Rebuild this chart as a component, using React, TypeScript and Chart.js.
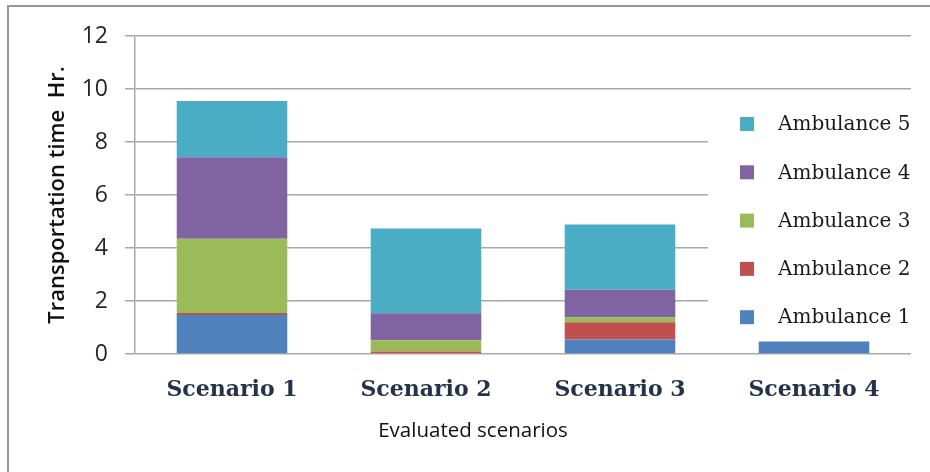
import React, { useEffect, useRef } from "react";
import { Chart, registerables } from "chart.js";

Chart.register(...registerables);

const categories = ["Scenario 1", "Scenario 2", "Scenario 3", "Scenario 4"];
const ambulance1 = [1.47, 0, 0.55, 0.47];
const ambulance2 = [0.08, 0.09, 0.65, 0];
const ambulance3 = [2.8, 0.43, 0.19, 0];
const ambulance4 = [3.07, 1.02, 1.03, 0];
const ambulance5 = [2.13, 3.2, 2.47, 0];
const seriesLabels = ["Ambulance 1", "Ambulance 2", "Ambulance 3", "Ambulance 4", "Ambulance 5"];
const seriesColors = ["#4f81bd", "#c0504d", "#9bbb59", "#8064a2", "#4bacc6"];
const yTicks = { min: 0, max: 12, step: 2 };
const xTitle = "Evaluated scenarios";
const yTitle = "Transportation time  Hr.";

const framePlugin = {
  id: "frame",
  beforeDraw(chart: any) {
    const ctx = chart.ctx;
    ctx.save();
    ctx.fillStyle = "#ffffff";
    ctx.fillRect(0, 0, chart.width, chart.height);
    ctx.strokeStyle = "#979797";
    ctx.lineWidth = 2;
    ctx.beginPath();
    ctx.moveTo(8, chart.height + 5);
    ctx.lineTo(8, 6);
    ctx.lineTo(chart.width + 5, 6);
    ctx.stroke();
    ctx.restore();
  },
};

const xTitlePlugin = {
  id: "xTitle",
  afterDraw(chart: any) {
    const ctx = chart.ctx;
    ctx.save();
    ctx.fillStyle = "#111111";
    ctx.font = "20.5px 'Open Sans'";
    ctx.textAlign = "center";
    ctx.textBaseline = "middle";
    ctx.fillText(xTitle, chart.width / 2 + 8, chart.chartArea.bottom + 77);
    ctx.restore();
  },
};

const legendPlugin = {
  id: "innerLegend",
  afterDraw(chart: any) {
    const ctx = chart.ctx;
    const area = chart.chartArea;
    const boxLeft = area.right - 203;
    ctx.save();
    ctx.fillStyle = "#ffffff";
    ctx.fillRect(boxLeft, area.top + 64, 230, 236);
    const ds = chart.data.datasets.slice().reverse();
    ds.forEach((d: any, i: number) => {
      const cy = area.top + 88 + i * 48.3;
      ctx.fillStyle = d.backgroundColor;
      ctx.fillRect(area.right - 171, cy - 7, 14, 14);
      ctx.fillStyle = "#1a1a1a";
      ctx.font = "20px 'DejaVu Serif'";
      ctx.textBaseline = "middle";
      ctx.textAlign = "left";
      ctx.fillText(d.label, area.right - 133, cy + 1);
    });
    ctx.restore();
  },
};

export default function App() {
  const ref = useRef<HTMLCanvasElement | null>(null);
  useEffect(() => {
    if (!ref.current) return;
    const values = [ambulance1, ambulance2, ambulance3, ambulance4, ambulance5];
    const chart = new Chart(ref.current, {
      type: "bar",
      data: {
        labels: categories,
        datasets: values.map((v, i) => ({
          label: seriesLabels[i],
          data: v,
          backgroundColor: seriesColors[i],
          borderWidth: 0,
          barPercentage: 0.57,
          categoryPercentage: 1,
        })),
      },
      options: {
        responsive: false,
        animation: false,
        layout: { padding: { left: 0, top: 36, right: 19, bottom: 0 } },
        plugins: {
          legend: { display: false },
          tooltip: { enabled: false },
        },
        scales: {
          x: {
            stacked: true,
            grid: { display: false, drawTicks: false, tickLength: 0 },
            border: { display: false },
            ticks: {
              padding: 23,
              color: "#24324a",
              font: { family: "'DejaVu Serif'", size: 22, weight: "bold" },
            },
            afterFit(scale: any) {
              scale.height = 118;
            },
          },
          y: {
            stacked: true,
            min: yTicks.min,
            max: yTicks.max,
            ticks: {
              stepSize: yTicks.step,
              padding: 17,
              color: "#262626",
              font: { family: "'Open Sans'", size: 23 },
            },
            grid: { color: "#a8a8a8", lineWidth: 1.5, tickLength: 10, drawTicks: true },
            border: { display: true, color: "#a8a8a8", width: 1.5 },
            title: {
              display: true,
              text: yTitle,
              color: "#111111",
              font: { family: "'Open Sans'", size: 22, weight: "600" },
              padding: { top: 45, bottom: 0 },
            },
            afterFit(scale: any) {
              scale.width = 135;
            },
          },
        },
      },
      plugins: [framePlugin, legendPlugin, xTitlePlugin],
    });
    return () => chart.destroy();
  }, []);
  return (
    <div style={{ position: "absolute", left: 0, top: 0, width: 930, height: 472 }}>
      <canvas ref={ref} width={930} height={472} style={{ display: "block" }} />
    </div>
  );
}
